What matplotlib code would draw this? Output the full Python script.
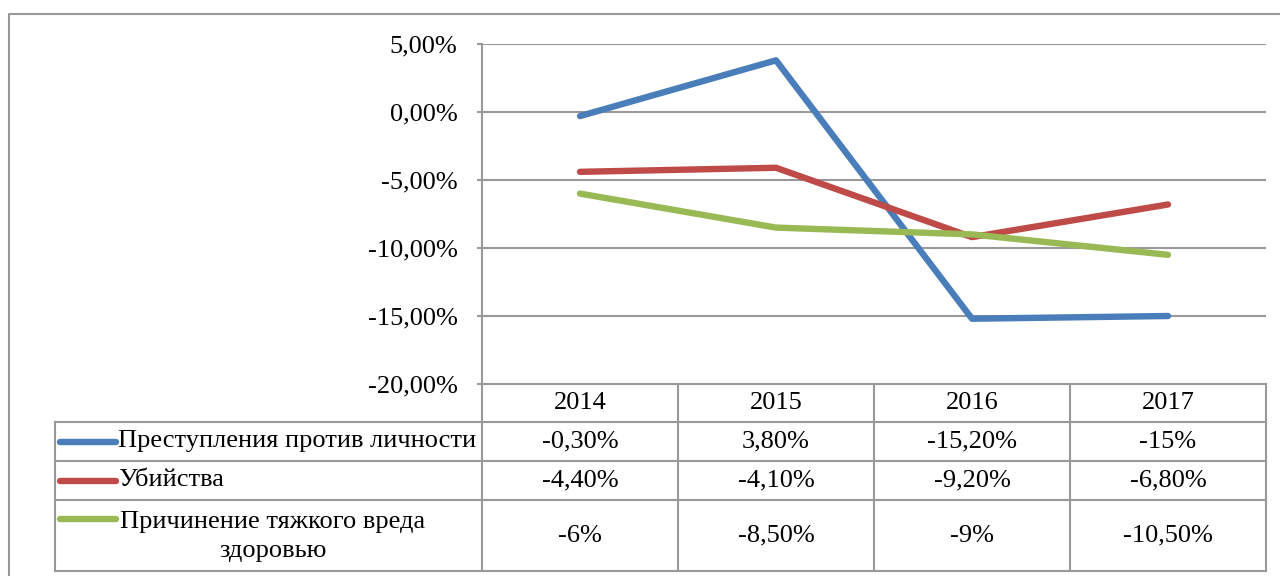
import matplotlib
matplotlib.use("Agg")
from matplotlib import pyplot as plt

plt.rcParams['font.family'] = ['Liberation Serif', 'DejaVu Serif']

years = ['2014', '2015', '2016', '2017']
series_names = ['Преступления против личности', 'Убийства', 'Причинение тяжкого вреда\nздоровью']
person_crimes = [-0.3, 3.8, -15.2, -15.0]
murders = [-4.4, -4.1, -9.2, -6.8]
grave_harm = [-6.0, -8.5, -9.0, -10.5]
table_text = [
    ['-0,30%', '3,80%', '-15,20%', '-15%'],
    ['-4,40%', '-4,10%', '-9,20%', '-6,80%'],
    ['-6%', '-8,50%', '-9%', '-10,50%'],
]
colors = ['#4a7ebb', '#be4b48', '#98b954']

W, H = 1280, 576
GRID = '#999999'
FS = 19

fig = plt.figure(figsize=(12.8, 5.76), dpi=100)

# overlay in pixel coords for frame and data table
tax = fig.add_axes([0, 0, 1, 1])
tax.set_xlim(0, W)
tax.set_ylim(H, 0)
tax.axis('off')

# plot area
px0, px1, py0, py1 = 482, 1266, 44, 384
ax = fig.add_axes([px0 / W, 1 - py1 / H, (px1 - px0) / W, (py1 - py0) / H])
ax.set_xlim(-0.5, 3.5)
ax.set_ylim(-20, 5)
ax.set_yticks([5, 0, -5, -10, -15, -20])
ax.set_yticklabels(['5,00%', '0,00%', '-5,00%', '-10,00%', '-15,00%', '-20,00%'], fontsize=FS)
ax.set_xticks([])
ax.yaxis.grid(True, color=GRID, linewidth=1.5)
ax.set_axisbelow(True)
for s in ['top', 'right', 'bottom']:
    ax.spines[s].set_visible(False)
ax.spines['left'].set_color(GRID)
ax.spines['left'].set_linewidth(1.5)
ax.tick_params(axis='y', length=3.6, width=1.5, color=GRID, pad=14)

x = range(len(years))
for vals, c in zip([person_crimes, murders, grave_harm], colors):
    ax.plot(x, vals, color=c, linewidth=4.6, solid_capstyle='round', solid_joinstyle='round')

# outer frame
tax.plot([9, 9, W], [H, 14, 14], color=GRID, linewidth=1.5)

# data table
tl, cw = 55, 196
rows = [384, 422, 461, 500, 571]
lk = dict(color=GRID, linewidth=1.5)
tax.plot([px0, px1], [rows[0], rows[0]], **lk)
for yy in rows[1:]:
    tax.plot([tl, px1], [yy, yy], **lk)
tax.plot([tl, tl], [rows[1], rows[-1]], **lk)
for i in range(5):
    xx = px0 + i * cw
    tax.plot([xx, xx], [rows[0], rows[-1]], **lk)

for i, yr in enumerate(years):
    tax.text(px0 + cw * (i + 0.5), (rows[0] + rows[1]) / 2, yr, ha='center', va='center', fontsize=FS)

for r in range(3):
    yc = (rows[r + 1] + rows[r + 2]) / 2
    for i in range(4):
        tax.text(px0 + cw * (i + 0.5), yc, table_text[r][i], ha='center', va='center', fontsize=FS)
    if r < 2:
        tax.plot([60, 116], [yc, yc], color=colors[r], linewidth=4.6, solid_capstyle='round')
        tax.text(118, yc, series_names[r], ha='left', va='center', fontsize=FS)
    else:
        tax.plot([60, 116], [519, 519], color=colors[r], linewidth=4.6, solid_capstyle='round')
        tax.text(273, yc + 1, series_names[r], ha='center', va='center', fontsize=FS,
                 multialignment='center', linespacing=1.4)

fig.savefig('out.png', dpi=100)
